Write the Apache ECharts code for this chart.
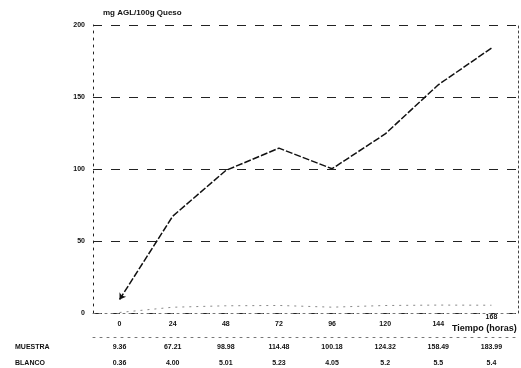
<!DOCTYPE html>
<html>
<head>
<meta charset="utf-8">
<script src="https://cdn.jsdelivr.net/npm/echarts@6/dist/echarts.min.js"></script>
<style>html,body{margin:0;padding:0;background:#fff;}#c{width:521px;height:368px;}</style>
</head>
<body>
<div id="c"></div>
<script>
var hours = [0, 24, 48, 72, 96, 120, 144, 168];
var muestra = [9.36, 67.21, 98.98, 114.48, 100.18, 124.32, 158.49, 183.99];
var blanco = [0.36, 4.00, 5.01, 5.23, 4.05, 5.2, 5.5, 5.4];
var muestraLabels = ['9.36', '67.21', '98.98', '114.48', '100.18', '124.32', '158.49', '183.99'];
var blancoLabels = ['0.36', '4.00', '5.01', '5.23', '4.05', '5.2', '5.5', '5.4'];
var yTicks = [0, 50, 100, 150, 200];

var font = 'Liberation Sans, Arial, sans-serif';
function rowFmt(labels) {
  return function (v) {
    var i = hours.indexOf(v);
    return i >= 0 ? labels[i] : '';
  };
}
function txt(text, left, top, size) {
  return {text: text, left: left, top: top, padding: 0,
    textStyle: {fontFamily: font, fontSize: size, fontWeight: 'bold', color: '#111'}};
}
var chart = echarts.init(document.getElementById('c'));
var baseX = {type: 'value', min: -12, max: 180, interval: 12, gridIndex: 0, position: 'bottom',
  splitLine: {show: false}, axisTick: {show: false}};
var lastHour = hours[hours.length - 1];
chart.setOption({
  animation: false,
  backgroundColor: '#fff',
  title: [
    txt('mg AGL/100g Queso', 103, 9, 8),
    txt('Tiempo (horas)', 452, 324, 9),
    txt('MUESTRA', 15, 344, 7),
    txt('BLANCO', 15, 360, 7)
  ],
  grid: {left: 93, right: 3, top: 25, bottom: 55, containLabel: false, outerBoundsMode: 'none'},
  xAxis: [
    Object.assign({}, baseX, {
      axisLine: {show: true, onZero: false, lineStyle: {color: '#777', type: [2, 4], width: 1}},
      axisLabel: {formatter: function (v) {
          if (hours.indexOf(v) < 0) return '';
          return v === lastHour ? '{hi|' + v + '}' : '{n|' + v + '}';
        },
        rich: {n: {padding: [7, 0, 0, 0]}, hi: {padding: [0, 0, 0, 0]}},
        fontFamily: font, fontSize: 7, fontWeight: 'bold', color: '#111', margin: 1}
    }),
    Object.assign({}, baseX, {
      offset: 24,
      axisLine: {show: true, onZero: false, lineStyle: {color: '#777', type: [2, 5], width: 1}},
      axisLabel: {formatter: rowFmt(muestraLabels), fontFamily: font, fontSize: 7,
        fontWeight: 'bold', color: '#111', margin: 7}
    }),
    Object.assign({}, baseX, {
      offset: 40,
      axisLine: {show: false},
      axisLabel: {formatter: rowFmt(blancoLabels), fontFamily: font, fontSize: 7,
        fontWeight: 'bold', color: '#111', margin: 7}
    })
  ],
  yAxis: [
    {type: 'value', min: 0, max: 200, interval: 50, position: 'left',
      axisLine: {show: true, onZero: false, lineStyle: {color: '#222', type: [2, 5], width: 1}},
      axisTick: {show: false},
      axisLabel: {formatter: function (v) { return yTicks.indexOf(v) >= 0 ? String(v) : ''; },
        fontFamily: font, fontSize: 7, fontWeight: 'bold', color: '#111', margin: 8},
      splitLine: {show: true, lineStyle: {color: '#222', type: [9, 9], width: 1}}
    },
    {type: 'value', min: 0, max: 200, interval: 50, position: 'right',
      axisLine: {show: true, onZero: false, lineStyle: {color: '#444', type: [2, 3], width: 1}},
      axisTick: {show: false}, axisLabel: {show: false}, splitLine: {show: false}
    }
  ],
  series: [
    {type: 'line', name: 'MUESTRA', xAxisIndex: 0, yAxisIndex: 0,
      data: hours.map(function (h, i) {
        if (i === 0) return {value: [h, muestra[i]], symbol: 'arrow', symbolSize: 6, symbolRotate: 147};
        return [h, muestra[i]];
      }),
      symbol: 'none', showSymbol: true,
      itemStyle: {color: '#111'},
      lineStyle: {color: '#111', width: 1.5, type: [7, 2]}
    },
    {type: 'line', name: 'BLANCO', xAxisIndex: 0, yAxisIndex: 0,
      data: hours.map(function (h, i) { return [h, blanco[i]]; }),
      symbol: 'none',
      lineStyle: {color: '#888', width: 1, type: [2, 5]}
    }
  ]
});
</script>
</body>
</html>
